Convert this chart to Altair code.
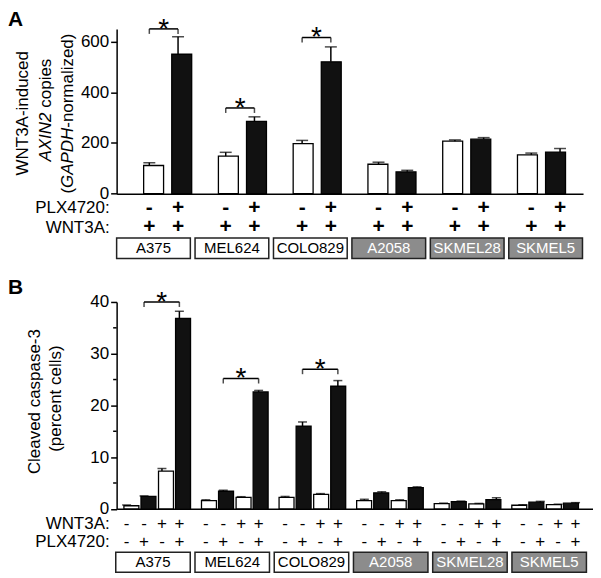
import altair as alt
import pandas as pd

FONT = "Liberation Sans"

# ---------------- data ----------------
cell_lines = ["A375", "MEL624", "COLO829", "A2058", "SKMEL28", "SKMEL5"]
braf_status = ["sensitive", "sensitive", "sensitive", "resistant", "resistant", "resistant"]

# Panel A: WNT3A-induced AXIN2 copies (GAPDH-normalized)
axin2_ctrl = [111, 148, 197, 116, 207, 153]
axin2_ctrl_err = [11, 15, 13, 8, 5, 7]
axin2_plx = [550, 285, 520, 86, 215, 164]
axin2_plx_err = [69, 18, 59, 6, 6, 14]
a_plx_signs = ["-", "+"]
a_wnt_signs = ["+", "+"]
a_sig_lines = [0, 1, 2]
a_sig_level = [650, 338, 616]
a_ticks = [0, 200, 400, 600]

# Panel B: cleaved caspase-3 (percent cells); conditions per cell line
b_wnt_signs = ["-", "-", "+", "+"]
b_plx_signs = ["-", "+", "-", "+"]
casp_none = [0.6, 1.6, 2.2, 1.6, 1.0, 0.7]
casp_plx = [2.4, 3.4, 16.0, 3.1, 1.4, 1.3]
casp_wnt = [7.3, 2.2, 2.8, 1.6, 0.95, 0.8]
casp_wnt_plx = [36.8, 22.6, 23.7, 4.1, 1.8, 1.1]
casp_none_err = [0.15, 0.15, 0.2, 0.25, 0.1, 0.1]
casp_plx_err = [0.1, 0.2, 0.8, 0.2, 0.1, 0.15]
casp_wnt_err = [0.5, 0.15, 0.15, 0.15, 0.1, 0.1]
casp_wnt_plx_err = [1.4, 0.3, 1.1, 0.15, 0.35, 0.1]
b_sig_lines = [0, 1, 2]
b_sig_level = [40, 25.2, 27.0]
b_ticks = [0, 10, 20, 30, 40]
b_minor_ticks = [5, 15, 25, 35]

# ---------------- layout constants ----------------
A_W, A_H = 468, 165.3
A_XDOM = [-0.616, 5.489]
A_BOXDOM = [-0.47, 5.477]
A_OFF = [-0.188, 0.188]
B_W, B_H = 478, 207.6
B_XDOM = [-0.459, 5.553]
B_OFF = [-0.333, -0.113, 0.113, 0.333]
BOX_HALF = 0.47
GRAY = "#8c8c8c"

status_fill = alt.Scale(domain=["sensitive", "resistant"], range=["white", GRAY])
status_text = alt.Scale(domain=["sensitive", "resistant"], range=["black", "white"])


def label(text, x, y, **kw):
    base = dict(font=FONT, fontSize=17, color="black")
    base.update(kw)
    return alt.Chart(pd.DataFrame({"t": [text]})).mark_text(**base).encode(
        x=alt.value(x), y=alt.value(y), text="t:N")


x_axis_line = alt.Axis(labels=False, ticks=False, title=None, grid=False,
                       domainColor="black", domainWidth=1.5)


def y_axis(vals):
    return alt.Axis(values=vals, title=None, grid=False, tickSize=6, tickWidth=1.5,
                    tickColor="black", domainColor="black", domainWidth=1.5,
                    labelFont=FONT, labelFontSize=17, labelColor="black",
                    labelPadding=2, format="d")


# ---------------- Panel A ----------------
rows = []
vals = [axin2_ctrl, axin2_plx]
errs = [axin2_ctrl_err, axin2_plx_err]
for i, line in enumerate(cell_lines):
    for k in range(2):
        rows.append(dict(line=line, x=i + A_OFF[k], value=vals[k][i],
                         upper=vals[k][i] + errs[k][i],
                         fill="white" if k == 0 else "#111111",
                         plx=a_plx_signs[k], wnt=a_wnt_signs[k]))
df_a = pd.DataFrame(rows)

xs_a = alt.Scale(domain=A_XDOM, nice=False, zero=False)
xb_a = alt.Scale(domain=A_BOXDOM, nice=False, zero=False)
ys_a = alt.Scale(domain=[0, 650], nice=False, zero=True)
ya_axis = y_axis(a_ticks)

bars_a = alt.Chart(df_a).mark_bar(orient="vertical", size=20, stroke="black", strokeWidth=1.3).encode(
    x=alt.X("x:Q", scale=xs_a, axis=x_axis_line),
    y=alt.Y("value:Q", scale=ys_a, axis=ya_axis, stack=None),
    fill=alt.Fill("fill:N", scale=None))
err_a = alt.Chart(df_a).mark_rule(strokeWidth=1.5, color="black").encode(
    x=alt.X("x:Q", scale=xs_a, axis=None),
    y=alt.Y("value:Q", scale=ys_a, axis=ya_axis), y2="upper:Q")
cap_a = alt.Chart(df_a).mark_tick(orient="horizontal", size=12, thickness=1.5, color="black").encode(
    x=alt.X("x:Q", scale=xs_a, axis=None),
    y=alt.Y("upper:Q", scale=ys_a, axis=ya_axis))

sig_a = pd.DataFrame(dict(x1=[g + A_OFF[0] for g in a_sig_lines],
                          x2=[g + A_OFF[1] for g in a_sig_lines],
                          xm=[g + (A_OFF[0] + A_OFF[1]) / 2 for g in a_sig_lines],
                          y=a_sig_level))
sig_ends_a = pd.DataFrame(dict(xe=list(sig_a.x1) + list(sig_a.x2), y=a_sig_level * 2))
br_a = alt.Chart(sig_a).mark_rule(strokeWidth=1.5, color="black").encode(
    x=alt.X("x1:Q", scale=xs_a, axis=None), x2="x2:Q", y=alt.Y("y:Q", scale=ys_a, axis=ya_axis))
bre_a = alt.Chart(sig_ends_a).mark_tick(orient="vertical", size=5, thickness=1.5, color="black", yOffset=2.5).encode(
    x=alt.X("xe:Q", scale=xs_a, axis=None), y=alt.Y("y:Q", scale=ys_a, axis=ya_axis))
star_a = alt.Chart(sig_a).mark_text(text="*", font=FONT, fontSize=28, baseline="alphabetic", dy=9).encode(
    x=alt.X("xm:Q", scale=xs_a, axis=None), y=alt.Y("y:Q", scale=ys_a, axis=ya_axis))

plx_a = alt.Chart(df_a).mark_text(font=FONT, fontSize=21, fontWeight="bold", baseline="middle").encode(
    x=alt.X("x:Q", scale=xs_a, axis=None), y=alt.value(A_H + 14), text="plx:N")
wnt_a = alt.Chart(df_a).mark_text(font=FONT, fontSize=21, fontWeight="bold", baseline="middle").encode(
    x=alt.X("x:Q", scale=xs_a, axis=None), y=alt.value(A_H + 34), text="wnt:N")

box_df = pd.DataFrame(dict(line=cell_lines, status=braf_status,
                           xc=list(range(6)),
                           x1=[i - BOX_HALF for i in range(6)],
                           x2=[i + BOX_HALF for i in range(6)]))
box_a = alt.Chart(box_df).mark_rect(stroke="#222222", strokeWidth=1.5).encode(
    x=alt.X("x1:Q", scale=xb_a, axis=None), x2="x2:Q",
    y=alt.value(A_H + 44.5), y2=alt.value(A_H + 65),
    fill=alt.Fill("status:N", scale=status_fill, legend=None))
boxt_a = alt.Chart(box_df).mark_text(font=FONT, fontSize=15, baseline="middle").encode(
    x=alt.X("xc:Q", scale=xb_a, axis=None), y=alt.value(A_H + 55),
    text="line:N", color=alt.Color("status:N", scale=status_text, legend=None))

# y-axis title with italic gene names
t1 = label("WNT3A-induced", -93.5, A_H / 2 + 2, angle=270, align="center", baseline="middle")
t2a = label("AXIN2", -71, 84, angle=270, align="right", baseline="middle", fontStyle="italic")
t2b = label("copies", -71, 84 - 5, angle=270, align="left", baseline="middle")
t3a = label("(", -48.5, 159.6, angle=270, align="right", baseline="middle")
t3b = label("GAPDH", -48.5, 159.6, angle=270, align="left", baseline="middle", fontStyle="italic")
t3c = label("-normalized)", -48.5, 159.6 - 60.4, angle=270, align="left", baseline="middle")
rl1_a = label("PLX4720:", -7, A_H + 14, align="right", baseline="middle")
rl2_a = label("WNT3A:", -7, A_H + 34, align="right", baseline="middle")
pa = label("A", -109, -20, align="left", baseline="top", fontSize=21, fontWeight="bold")

panel_a = alt.layer(bars_a, err_a, cap_a, br_a, bre_a, star_a, plx_a, wnt_a, box_a, boxt_a,
                    t1, t2a, t2b, t3a, t3b, t3c, rl1_a, rl2_a, pa).resolve_scale(
    x="independent").properties(width=A_W, height=A_H)

# ---------------- Panel B ----------------
rows = []
vals_b = [casp_none, casp_plx, casp_wnt, casp_wnt_plx]
errs_b = [casp_none_err, casp_plx_err, casp_wnt_err, casp_wnt_plx_err]
for i, line in enumerate(cell_lines):
    for k in range(4):
        rows.append(dict(line=line, x=i + B_OFF[k], value=vals_b[k][i],
                         upper=vals_b[k][i] + errs_b[k][i],
                         fill="white" if b_plx_signs[k] == "-" else "#111111",
                         plx=b_plx_signs[k], wnt=b_wnt_signs[k]))
df_b = pd.DataFrame(rows)

xs_b = alt.Scale(domain=B_XDOM, nice=False, zero=False)
ys_b = alt.Scale(domain=[0, 40], nice=False, zero=True)
yb_axis = y_axis(b_ticks)

bars_b = alt.Chart(df_b).mark_bar(orient="vertical", size=15, stroke="black", strokeWidth=1.3).encode(
    x=alt.X("x:Q", scale=xs_b, axis=x_axis_line),
    y=alt.Y("value:Q", scale=ys_b, axis=yb_axis, stack=None),
    fill=alt.Fill("fill:N", scale=None))
err_b = alt.Chart(df_b).mark_rule(strokeWidth=1.5, color="black").encode(
    x=alt.X("x:Q", scale=xs_b, axis=None),
    y=alt.Y("value:Q", scale=ys_b, axis=yb_axis), y2="upper:Q")
cap_b = alt.Chart(df_b).mark_tick(orient="horizontal", size=9, thickness=1.5, color="black").encode(
    x=alt.X("x:Q", scale=xs_b, axis=None),
    y=alt.Y("upper:Q", scale=ys_b, axis=yb_axis))
minor_b = alt.Chart(pd.DataFrame({"v": b_minor_ticks})).mark_rule(strokeWidth=1.5, color="black").encode(
    y=alt.Y("v:Q", scale=ys_b, axis=yb_axis), x=alt.value(-3.5), x2=alt.value(0))

sig_b = pd.DataFrame(dict(x1=[g + B_OFF[1] for g in b_sig_lines],
                          x2=[g + B_OFF[3] for g in b_sig_lines],
                          xm=[g + (B_OFF[1] + B_OFF[3]) / 2 for g in b_sig_lines],
                          y=b_sig_level))
sig_ends_b = pd.DataFrame(dict(xe=list(sig_b.x1) + list(sig_b.x2), y=b_sig_level * 2))
br_b = alt.Chart(sig_b).mark_rule(strokeWidth=1.5, color="black").encode(
    x=alt.X("x1:Q", scale=xs_b, axis=None), x2="x2:Q", y=alt.Y("y:Q", scale=ys_b, axis=yb_axis))
bre_b = alt.Chart(sig_ends_b).mark_tick(orient="vertical", size=5, thickness=1.5, color="black", yOffset=2.5).encode(
    x=alt.X("xe:Q", scale=xs_b, axis=None), y=alt.Y("y:Q", scale=ys_b, axis=yb_axis))
star_b = alt.Chart(sig_b).mark_text(text="*", font=FONT, fontSize=28, baseline="alphabetic", dy=9).encode(
    x=alt.X("xm:Q", scale=xs_b, axis=None), y=alt.Y("y:Q", scale=ys_b, axis=yb_axis))

wnt_b = alt.Chart(df_b).mark_text(font=FONT, fontSize=17, baseline="middle").encode(
    x=alt.X("x:Q", scale=xs_b, axis=None), y=alt.value(B_H + 15), text="wnt:N")
plx_b = alt.Chart(df_b).mark_text(font=FONT, fontSize=17, baseline="middle").encode(
    x=alt.X("x:Q", scale=xs_b, axis=None), y=alt.value(B_H + 33), text="plx:N")

box_b = alt.Chart(box_df).mark_rect(stroke="#222222", strokeWidth=1.5).encode(
    x=alt.X("x1:Q", scale=xs_b, axis=None), x2="x2:Q",
    y=alt.value(B_H + 43.5), y2=alt.value(B_H + 63.5),
    fill=alt.Fill("status:N", scale=status_fill, legend=None))
boxt_b = alt.Chart(box_df).mark_text(font=FONT, fontSize=15, baseline="middle").encode(
    x=alt.X("xc:Q", scale=xs_b, axis=None), y=alt.value(B_H + 53.5),
    text="line:N", color=alt.Color("status:N", scale=status_text, legend=None))

u1 = label("Cleaved caspase-3", -82, 100, angle=270, align="center", baseline="middle")
u2 = label("(percent cells)", -61, 97, angle=270, align="center", baseline="middle")
rl1_b = label("WNT3A:", -7, B_H + 15, align="right", baseline="middle")
rl2_b = label("PLX4720:", -7, B_H + 33, align="right", baseline="middle")
pb = label("B", -109, -25, align="left", baseline="top", fontSize=21, fontWeight="bold")

panel_b = alt.layer(bars_b, err_b, cap_b, minor_b, br_b, bre_b, star_b, wnt_b, plx_b, box_b, boxt_b,
                    u1, u2, rl1_b, rl2_b, pb).resolve_scale(
    x="independent").properties(width=B_W, height=B_H)

chart = alt.vconcat(panel_a, panel_b, spacing=17).configure_view(stroke=None).properties(
    padding={"left": 0, "top": 0, "right": 0, "bottom": 0}, background="white")

chart.save("out.html", embed_options={"renderer": "svg", "actions": False})
